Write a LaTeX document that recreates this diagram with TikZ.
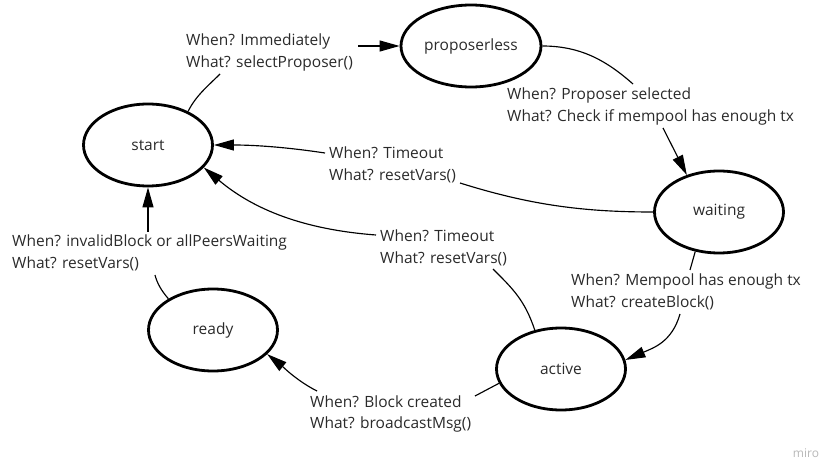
\documentclass[tikz,border=0pt]{standalone}
\usepackage{fontspec}
\setmainfont{Open Sans}
\usetikzlibrary{shapes.geometric,arrows.meta}
\definecolor{txt}{HTML}{2A2A2A}
\begin{document}
\begin{tikzpicture}[x=1pt,y=-1pt,
  state/.style={ellipse,draw=black,line width=2.8pt,minimum width=129pt,minimum height=82pt,inner sep=0pt,font=\fontsize{15.5}{18}\selectfont,text=txt},
  lbl/.style={anchor=base west,inner sep=0pt,align=left,font=\fontsize{15.5}{21.5}\selectfont,text=txt},
  conn/.style={line width=1.15pt,draw=black},
  arr/.style={conn,-{Triangle[length=20pt,width=11pt]}}]
\useasboundingbox (0,0) rectangle (825,465);
% states
\node[state] (start) at (148,145) {start};
\node[state,minimum width=140pt] (prop) at (471,46) {proposerless};
\node[state] (wait) at (719,212) {waiting};
\node[state] (ready) at (213,330) {ready};
\node[state] (active) at (561,369) {active};
% labels (anchored at baseline of second line)
\node[lbl] (l1) at (186,67.5) {When? Immediately\\What? selectProposer()};
\node[lbl] (l2) at (507,121.5) {When? Proposer selected\\What? Check if mempool has enough tx};
\node[lbl] (l3) at (329,180.5) {When? Timeout\\What? resetVars()};
\node[lbl] (l4) at (380,263.5) {When? Timeout\\What? resetVars()};
\node[lbl] (l5) at (571,307.5) {When? Mempool has enough tx\\What? createBlock()};
\node[lbl] (l6) at (12,268.5) {When? invalidBlock or allPeersWaiting\\What? resetVars()};
\node[lbl] (l7) at (310,428.5) {When? Block created\\What? broadcastMsg()};
\node[anchor=center,inner sep=0pt,font=\fontsize{12}{13}\selectfont,text=black!28] (miro) at (806,453) {miro};
% free ends
\coordinate (c1a) at (220,74);  \coordinate (c1b) at (358,46);
\coordinate (c2a) at (633,84);  \coordinate (c2b) at (663,128);
\coordinate (c3a) at (460,183); \coordinate (c3b) at (325,153);
\coordinate (c4a) at (493,269); \coordinate (c4b) at (376,235);
\coordinate (c5a) at (690,270); \coordinate (c5b) at (680,314);
\coordinate (c6a) at (155,275); \coordinate (c6b) at (148,232);
\coordinate (c7a) at (475,396); \coordinate (c7b) at (317,391);
% connectors
\draw[conn] (start.40) .. controls +(8,-16) and +(-12,12) .. (c1a);
\draw[arr] (c1b) -- (prop.west);
\draw[conn] (prop.east) .. controls +(40,0) and +(-25,-22) .. (c2a);
\draw[arr] (c2b) -- (wait.131);
\draw[conn] (wait.west) .. controls +(-70,0) and +(70,22) .. (c3a);
\draw[arr] (c3b) .. controls +(-40,-6) and +(40,0) .. (start.east);
\draw[conn] (active.124) .. controls +(-10,-30) and +(20,20) .. (c4a);
\draw[arr] (c4b) .. controls +(-80,-6) and +(45,38) .. (start.-22);
\draw[conn] (wait.-121) -- (c5a);
\draw[arr] (c5b) .. controls +(-8,28) and +(28,-12) .. (active.8);
\draw[conn] (ready.145) .. controls +(-7,-8) and +(2,8) .. (c6a);
\draw[arr] (c6b) -- (start.south);
\draw[conn] (active.193) -- (c7a);
\draw[arr] (c7b) .. controls +(-20,-10) and +(15,12) .. (ready.-24);
\end{tikzpicture}
\end{document}
